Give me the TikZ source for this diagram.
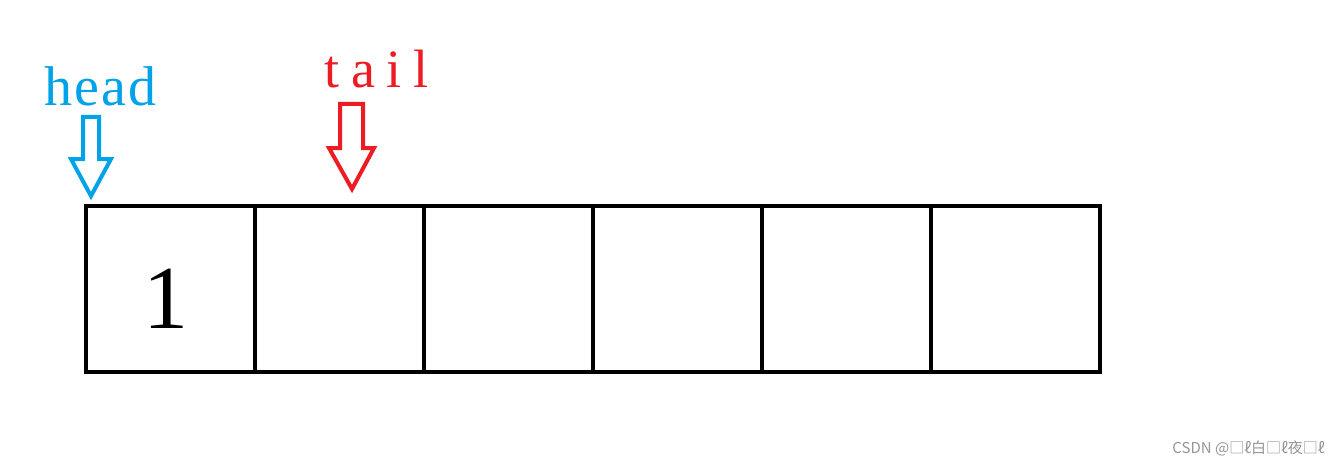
\documentclass[tikz,border=0pt]{standalone}
\usepackage{fontspec}
\setmainfont{Liberation Serif}
\newfontfamily\cjk{Noto Sans CJK SC}
\newfontfamily\tailfont[LetterSpace=22]{Liberation Serif}
\newfontfamily\headfont[LetterSpace=4]{Liberation Serif}
\definecolor{pblue}{RGB}{0,162,232}
\definecolor{pred}{RGB}{237,28,36}
\definecolor{wm}{RGB}{150,150,150}
\begin{document}
\begin{tikzpicture}[x=1pt,y=-1pt,
  cell/.style={draw=black,line width=4pt,minimum width=169pt,minimum height=166pt,inner sep=0pt,outer sep=0pt,anchor=north west},
  blockarrow/.style={line width=4pt,line join=miter,fill=white},
  lbl/.style={inner sep=0pt,anchor=base west}]
\path[use as bounding box] (0,0) rectangle (1337,468);
\fill[white] (0,0) rectangle (1337,468);
% cells
\node[cell] (c1) at (86,206) {};
\node[cell] (c2) at (255,206) {};
\node[cell] (c3) at (424,206) {};
\node[cell] (c4) at (593,206) {};
\node[cell] (c5) at (762,206) {};
\node[cell] (c6) at (931,206) {};
\node[inner sep=0pt,anchor=base,font=\fontsize{90}{90}\selectfont] (one) at ([xshift=-5pt,yshift=-39pt]c1.center) {1};
% head label and arrow
\node[lbl,text=pblue,font=\headfont\fontsize{56}{56}\selectfont] (head) at (44,106) {head};
\draw[blockarrow,draw=pblue] (83,117) -- (99,117) -- (99,159) -- (111,159) -- (91,196) -- (71,159) -- (83,159) -- cycle;
% tail label and arrow
\node[lbl,text=pred,font=\tailfont\fontsize{54}{54}\selectfont] (tail) at (324,88) {tail};
\draw[blockarrow,draw=pred] (340,104) -- (363,104) -- (363,148) -- (374,148) -- (352,189) -- (329,148) -- (340,148) -- cycle;
% watermark
\node[inner sep=0pt,anchor=base east,text=wm,font=\cjk\fontsize{15}{15}\selectfont] (wmk) at (1325,453) {CSDN @□ℓ白□ℓ夜□ℓ};
\end{tikzpicture}
\end{document}
